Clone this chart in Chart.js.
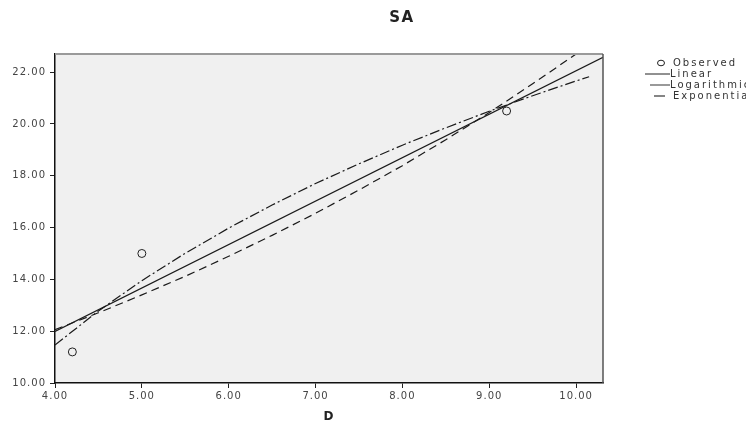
<!DOCTYPE html>
<html>
<head>
<meta charset="utf-8">
<script src="https://cdn.jsdelivr.net/npm/chart.js@4.4.1/dist/chart.umd.min.js"></script>
<style>
  html, body { margin: 0; padding: 0; background: #fff; }
  #wrap { width: 746px; height: 424px; }
</style>
</head>
<body>
<div id="wrap"><canvas id="fitChart" width="746" height="424"></canvas></div>
<script>
// values
const obsX = [4.2, 5.0, 9.2];
const obsY = [11.2, 15.0, 20.5];

const linX = [4.0, 10.31];
const linY = [11.99, 22.57];

const logX = [4.0, 4.5, 5.0, 5.5, 6.0, 6.5, 7.0, 7.5, 8.0, 8.5, 9.0, 9.5, 10.0, 10.15];
const logY = [11.47, 12.78, 13.95, 15.01, 15.98, 16.87, 17.70, 18.46, 19.18, 19.85, 20.49, 21.09, 21.66, 21.82];

const expX = [4.0, 4.5, 5.0, 5.5, 6.0, 6.5, 7.0, 7.5, 8.0, 8.5, 9.0, 9.5, 10.0];
const expY = [12.06, 12.71, 13.40, 14.12, 14.89, 15.70, 16.55, 17.45, 18.39, 19.39, 20.44, 21.55, 22.70];

const xTicks = [4, 5, 6, 7, 8, 9, 10];
const yTicks = [10, 12, 14, 16, 18, 20, 22];

const chartTitle = 'SA';
const legendLabels = ['Observed', 'Linear', 'Logarithmic', 'Exponential'];

const FONT = '"DejaVu Sans", "Liberation Sans", Arial, sans-serif';

function pts(xs, ys) {
  return xs.map((x, i) => ({ x: x, y: ys[i] }));
}

const lineBase = {
  type: 'line',
  showLine: true,
  pointRadius: 0,
  fill: false,
  tension: 0,
  borderWidth: 1.2,
  borderColor: '#1a1a1a'
};

// plot background, frame, title and the legend on the right
const framePlugin = {
  id: 'frame',
  beforeUpdate(chart) {
    chart.ctx.letterSpacing = '1px';
  },
  beforeDraw(chart) {
    const a = chart.chartArea, ctx = chart.ctx;
    ctx.letterSpacing = '1px';
    ctx.save();
    ctx.fillStyle = '#f0f0f0';
    ctx.fillRect(a.left, a.top, a.right - a.left, a.bottom - a.top);
    ctx.restore();
  },
  afterDraw(chart) {
    const a = chart.chartArea, ctx = chart.ctx;
    ctx.save();
    ctx.strokeStyle = '#9a9a9a';
    ctx.lineWidth = 2;
    ctx.beginPath();
    ctx.moveTo(a.left, a.top);
    ctx.lineTo(a.right, a.top);
    ctx.stroke();
    ctx.strokeStyle = '#555';
    ctx.lineWidth = 1.5;
    ctx.beginPath();
    ctx.moveTo(a.right, a.top);
    ctx.lineTo(a.right, a.bottom);
    ctx.stroke();

    // title
    ctx.letterSpacing = '1.5px';
    ctx.font = 'bold 15px ' + FONT;
    ctx.fillStyle = '#222';
    ctx.textAlign = 'center';
    ctx.textBaseline = 'middle';
    ctx.fillText(chartTitle, 402, 18);

    // legend
    ctx.letterSpacing = '2px';
    ctx.font = '10px ' + FONT;
    ctx.fillStyle = '#333';
    ctx.textAlign = 'left';
    const rows = [63, 74, 85, 96];
    ctx.strokeStyle = '#222';
    ctx.lineWidth = 1;
    ctx.beginPath();
    ctx.ellipse(661, rows[0], 3.5, 2.8, 0, 0, Math.PI * 2);
    ctx.stroke();
    ctx.fillText(legendLabels[0], 673, rows[0]);
    ctx.beginPath();
    ctx.moveTo(645, rows[1]);
    ctx.lineTo(670, rows[1]);
    ctx.stroke();
    ctx.fillText(legendLabels[1], 670, rows[1]);
    ctx.strokeStyle = '#999';
    ctx.lineWidth = 2;
    ctx.beginPath();
    ctx.moveTo(650, rows[2]);
    ctx.lineTo(670, rows[2]);
    ctx.stroke();
    ctx.fillText(legendLabels[2], 670, rows[2]);
    ctx.strokeStyle = '#333';
    ctx.lineWidth = 1.2;
    ctx.beginPath();
    ctx.moveTo(654, rows[3]);
    ctx.lineTo(665, rows[3]);
    ctx.stroke();
    ctx.fillText(legendLabels[3], 673, rows[3]);
    ctx.restore();
  }
};

const tickFont = { family: FONT, size: 10 };

new Chart(document.getElementById('fitChart').getContext('2d'), {
  type: 'scatter',
  data: {
    datasets: [
      {
        label: legendLabels[0],
        data: pts(obsX, obsY),
        showLine: false,
        pointStyle: 'circle',
        pointRadius: 4,
        pointBorderWidth: 1,
        pointBorderColor: '#222',
        pointBackgroundColor: 'rgba(0,0,0,0)',
        pointHoverRadius: 4
      },
      Object.assign({}, lineBase, { label: legendLabels[1], data: pts(linX, linY) }),
      Object.assign({}, lineBase, { label: legendLabels[2], data: pts(logX, logY), borderDash: [10, 3, 2, 3] }),
      Object.assign({}, lineBase, { label: legendLabels[3], data: pts(expX, expY), borderDash: [8, 5] })
    ]
  },
  options: {
    responsive: false,
    animation: false,
    layout: { padding: { left: 0, right: 143, top: 54, bottom: 0 } },
    plugins: {
      legend: { display: false },
      tooltip: { enabled: false },
      title: { display: false }
    },
    scales: {
      x: {
        type: 'linear',
        min: 4,
        max: 10.31,
        afterBuildTicks: s => { s.ticks = xTicks.map(v => ({ value: v })); },
        afterFit: s => { s.height = 41; },
        grid: { display: true, drawOnChartArea: false, drawTicks: true, tickLength: 5, color: '#222' },
        border: { display: true, color: '#111', width: 1.5 },
        ticks: { color: '#444', font: tickFont, padding: 2, maxRotation: 0, callback: v => Number(v).toFixed(2) },
        title: {
          display: true,
          text: 'D',
          color: '#222',
          font: { family: FONT, size: 12, weight: 'bold' },
          padding: { top: 0, bottom: 0 }
        }
      },
      y: {
        type: 'linear',
        min: 10,
        max: 22.7,
        afterBuildTicks: s => { s.ticks = yTicks.map(v => ({ value: v })); },
        afterFit: s => { s.width = 55; },
        grid: { display: true, drawOnChartArea: false, drawTicks: true, tickLength: 5, color: '#222' },
        border: { display: true, color: '#111', width: 1.5 },
        ticks: { color: '#444', font: tickFont, padding: 4, callback: v => Number(v).toFixed(2) }
      }
    }
  },
  plugins: [framePlugin]
});
</script>
</body>
</html>
